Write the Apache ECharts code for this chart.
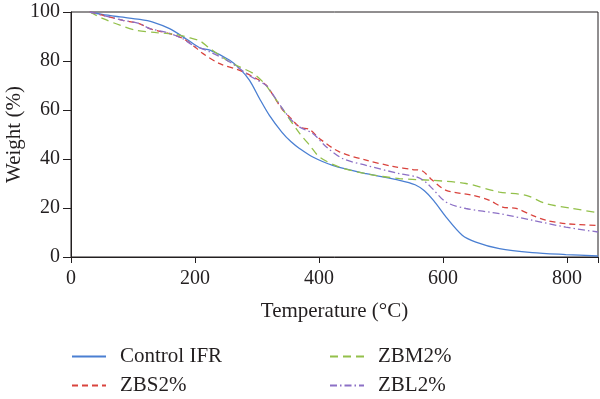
<!DOCTYPE html>
<html lang="en">
<head>
    <meta charset="UTF-8">
    <title>TGA curves</title>
    <style>
        html, body {
            margin: 0;
            padding: 0;
            background: #ffffff;
        }
        #main {
            width: 600px;
            height: 399px;
        }
    </style>
    <script type="text/javascript" src="https://cdn.jsdelivr.net/npm/echarts@6/dist/echarts.min.js"></script>
</head>
<body>
<div id="main"></div>
<script type="text/javascript">
    // values
    var seriesNames = ["Control IFR", "ZBS2%", "ZBM2%", "ZBL2%"];
    var xTicks = [0, 200, 400, 600, 800];
    var yTicks = [0, 20, 40, 60, 80, 100];

    var controlT = [30, 50, 79, 111, 132, 159, 186, 208, 224, 256, 272, 288, 304, 320, 340, 355, 369, 390, 422, 476, 530, 555, 570, 585, 605, 631, 653, 691, 744, 798, 850];
    var controlW = [100, 99, 98, 97, 95.9, 93.2, 89, 85.3, 84.4, 80.3, 76.9, 72.1, 64.7, 57.8, 51, 47, 44.2, 40.8, 37.4, 34, 31.3, 29.5, 27, 23, 16.3, 8.9, 6.1, 3.4, 1.8, 1.0, 0.4];

    var zbsT = [30, 52, 84, 111, 127, 143, 159, 181, 202, 213, 240, 272, 299, 315, 326, 340, 355, 369, 385, 401, 433, 476, 519, 551, 567, 583, 605, 648, 675, 696, 718, 744, 766, 798, 850];
    var zbsW = [100, 98.6, 96.6, 95.2, 93.2, 92.1, 91.2, 89.1, 85.3, 83, 78.9, 76.2, 72.8, 70.1, 66, 60.5, 56.5, 53, 52, 48.3, 42.9, 39.5, 37, 35.7, 35.1, 31.3, 27.2, 25.2, 23.1, 20.4, 19.8, 17, 15, 13.6, 12.9];

    var zbmT = [30, 52, 79, 106, 138, 170, 192, 208, 224, 256, 272, 294, 312, 326, 345, 369, 385, 401, 433, 476, 530, 583, 637, 691, 734, 766, 809, 850];
    var zbmW = [100, 97.3, 94.6, 92.5, 91.6, 90.8, 89.4, 88.2, 85.1, 79.6, 77.6, 74.9, 70.8, 66, 59, 50.4, 45.6, 40.8, 36.7, 34, 32, 31.3, 30, 26.5, 25.2, 21.8, 19.8, 18.1];

    var zblT = [30, 52, 84, 111, 127, 143, 159, 181, 192, 224, 256, 288, 315, 323, 340, 355, 369, 390, 412, 438, 476, 530, 557, 570, 583, 605, 637, 691, 744, 798, 850];
    var zblW = [100, 98.6, 96.6, 95.2, 93.2, 92.3, 91.3, 89, 87.1, 83.7, 79.6, 74, 70, 67.3, 61, 56, 53, 50.4, 44.9, 40.2, 37.4, 34, 32.7, 31, 27.9, 22.4, 19.8, 17.7, 15, 12.2, 10.2];

    var colors = ["#4a7fd2", "#d9433d", "#93c04a", "#8c70c6"];
    var dashes = ["solid", [6, 4], [8, 5], [7, 3, 1.5, 3]];

    function pairs(t, w) {
        var out = [];
        for (var i = 0; i < t.length; i++) {
            out.push([t[i], w[i]]);
        }
        return out;
    }
    var allData = [pairs(controlT, controlW), pairs(zbsT, zbsW), pairs(zbmT, zbmW), pairs(zblT, zblW)];

    var font = "Liberation Serif";
    var ink = "#231f20";

    var series = [];
    for (var i = 0; i < seriesNames.length; i++) {
        series.push({
            name: seriesNames[i],
            type: 'line',
            data: allData[i],
            symbol: 'none',
            smooth: 0.3,
            lineStyle: {color: colors[i], width: 1.3, type: dashes[i]},
            itemStyle: {color: colors[i]}
        });
    }

    // one small legend per entry, laid out in two columns
    var legendPos = [[71, 346], [71, 375], [329, 346], [329, 375]];
    var legends = [];
    for (var j = 0; j < seriesNames.length; j++) {
        legends.push({
            data: [seriesNames[j]],
            left: legendPos[j][0],
            top: legendPos[j][1],
            padding: 0,
            itemWidth: 34,
            itemHeight: 14,
            itemStyle: {opacity: 0},
            textStyle: {fontFamily: font, fontSize: 21, color: ink, padding: [0, 0, 0, 9]}
        });
    }

    var chart = echarts.init(document.getElementById('main'));
    var option = {
        animation: false,
        backgroundColor: '#ffffff',
        grid: {
            left: 71, right: 2, top: 12, bottom: 142,
            outerBoundsMode: 'none',
            containLabel: false,
            show: true, borderColor: ink, borderWidth: 1
        },
        legend: legends,
        xAxis: {
            type: 'value',
            min: 0, max: 850, interval: 200,
            name: 'Temperature (°C)',
            nameLocation: 'middle',
            nameGap: 44,
            nameMoveOverlap: false,
            nameTextStyle: {fontFamily: font, fontSize: 21, color: ink},
            axisLine: {show: true, lineStyle: {color: ink, width: 1}},
            axisTick: {show: true, length: 6, lineStyle: {color: ink}},
            axisLabel: {
                fontFamily: font, fontSize: 20, color: ink, margin: 12,
                formatter: function (v) { return xTicks.indexOf(v) >= 0 ? String(v) : ''; }
            },
            splitLine: {show: false}
        },
        yAxis: {
            type: 'value',
            min: 0, max: 100, interval: 20,
            name: 'Weight (%)',
            nameLocation: 'middle',
            nameGap: 46,
            nameMoveOverlap: false,
            nameTextStyle: {fontFamily: font, fontSize: 21, color: ink},
            axisLine: {show: true, lineStyle: {color: ink, width: 1}},
            axisTick: {show: true, length: 8, lineStyle: {color: ink}},
            axisLabel: {
                fontFamily: font, fontSize: 20, color: ink, margin: 11,
                formatter: function (v) { return yTicks.indexOf(v) >= 0 ? String(v) : ''; }
            },
            splitLine: {show: false}
        },
        series: series
    };
    chart.setOption(option);
</script>
</body>
</html>
